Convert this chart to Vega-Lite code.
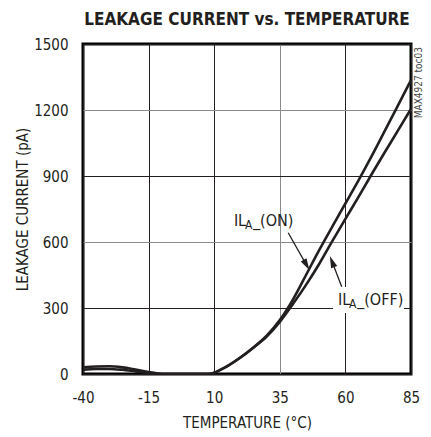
{
  "$schema": "https://vega.github.io/schema/vega-lite/v6.json",
  "width": 328,
  "height": 330,
  "autosize": {"type": "none"},
  "padding": {"left": 83, "top": 44, "right": 20, "bottom": 63},
  "background": "white",
  "config": {
    "font": "DejaVu Sans Condensed, sans-serif",
    "view": {"stroke": "black", "strokeWidth": 3},
    "axis": {
      "domain": false,
      "ticks": false,
      "tickSize": 0,
      "labelFlush": false,
      "labelFontSize": 15,
      "labelColor": "#231f20",
      "titleFontSize": 15,
      "titleFontWeight": "normal",
      "titleColor": "#231f20",
      "gridWidth": 1
    }
  },
  "title": {
    "text": "LEAKAGE CURRENT vs. TEMPERATURE",
    "fontSize": 17,
    "fontWeight": "bold",
    "anchor": "middle",
    "frame": "group",
    "offset": 8,
    "color": "#231f20"
  },
  "datasets": {
    "curves": [
      {"series": "ON", "T": -40, "I": 30}, {"series": "ON", "T": -35, "I": 34}, {"series": "ON", "T": -30, "I": 35},
      {"series": "ON", "T": -25, "I": 30}, {"series": "ON", "T": -20, "I": 20}, {"series": "ON", "T": -15, "I": 9},
      {"series": "ON", "T": -12, "I": 3}, {"series": "ON", "T": -10, "I": 0}, {"series": "ON", "T": 0, "I": 0},
      {"series": "ON", "T": 8, "I": 0}, {"series": "ON", "T": 10, "I": 6}, {"series": "ON", "T": 12.5, "I": 20},
      {"series": "ON", "T": 15, "I": 36}, {"series": "ON", "T": 20, "I": 75}, {"series": "ON", "T": 25, "I": 121},
      {"series": "ON", "T": 30, "I": 174}, {"series": "ON", "T": 35, "I": 245}, {"series": "ON", "T": 40, "I": 338},
      {"series": "ON", "T": 45, "I": 450}, {"series": "ON", "T": 50, "I": 563}, {"series": "ON", "T": 55, "I": 670},
      {"series": "ON", "T": 60, "I": 775}, {"series": "ON", "T": 65, "I": 880}, {"series": "ON", "T": 70, "I": 990},
      {"series": "ON", "T": 75, "I": 1105}, {"series": "ON", "T": 80, "I": 1220}, {"series": "ON", "T": 85, "I": 1336},
      {"series": "OFF", "T": -40, "I": 20}, {"series": "OFF", "T": -35, "I": 23}, {"series": "OFF", "T": -30, "I": 23},
      {"series": "OFF", "T": -25, "I": 19}, {"series": "OFF", "T": -20, "I": 12}, {"series": "OFF", "T": -15, "I": 5},
      {"series": "OFF", "T": -12, "I": 1}, {"series": "OFF", "T": -10, "I": 0}, {"series": "OFF", "T": 0, "I": 0},
      {"series": "OFF", "T": 8, "I": 0}, {"series": "OFF", "T": 10, "I": 6}, {"series": "OFF", "T": 12.5, "I": 20},
      {"series": "OFF", "T": 15, "I": 36}, {"series": "OFF", "T": 20, "I": 75}, {"series": "OFF", "T": 25, "I": 120},
      {"series": "OFF", "T": 30, "I": 170}, {"series": "OFF", "T": 35, "I": 237}, {"series": "OFF", "T": 40, "I": 318},
      {"series": "OFF", "T": 45, "I": 405}, {"series": "OFF", "T": 50, "I": 500}, {"series": "OFF", "T": 55, "I": 604},
      {"series": "OFF", "T": 60, "I": 705}, {"series": "OFF", "T": 65, "I": 805}, {"series": "OFF", "T": 70, "I": 908},
      {"series": "OFF", "T": 75, "I": 1008}, {"series": "OFF", "T": 80, "I": 1106}, {"series": "OFF", "T": 85, "I": 1205}
    ],
    "box": [{"t1": 55.3, "t2": 82.3, "v1": 277, "v2": 395}],
    "arrows": [
      {"name": "ON", "t1": 38.2, "v1": 642, "t2": 45.2, "v2": 495},
      {"name": "OFF", "t1": 58.6, "v1": 397, "t2": 54.9, "v2": 511}
    ],
    "labels": [
      {"name": "ON", "t": 17.5, "v": 673, "suffix": "_(ON)"},
      {"name": "OFF", "t": 57.2, "v": 314, "suffix": "_(OFF)"}
    ],
    "note": [{"t": 85, "v": 1500, "text": "MAX4927 toc03"}]
  },
  "layer": [
    {
      "data": {"name": "curves"},
      "mark": {"type": "line", "interpolate": "monotone", "strokeWidth": 2.6, "color": "#231f20", "clip": true},
      "encoding": {
        "x": {
          "field": "T", "type": "quantitative", "title": "TEMPERATURE (°C)",
          "scale": {"domain": [-40, 85], "nice": false, "zero": false},
          "axis": {
            "values": [-40, -15, 10, 35, 60, 85],
            "labelExpr": "'' + datum.value",
            "labelPadding": 16,
            "titlePadding": 10,
            "grid": true,
            "gridColor": {"condition": {"test": "datum.value === 35", "value": "#8a8a8a"}, "value": "#231f20"}
          }
        },
        "y": {
          "field": "I", "type": "quantitative", "title": "LEAKAGE CURRENT (pA)",
          "scale": {"domain": [0, 1500], "nice": false},
          "axis": {
            "values": [0, 300, 600, 900, 1200, 1500],
            "labelExpr": "'' + datum.value",
            "labelPadding": 15,
            "titlePadding": 3,
            "grid": true,
            "gridColor": {"condition": {"test": "datum.value === 600 || datum.value === 1200", "value": "#8a8a8a"}, "value": "#231f20"}
          }
        },
        "detail": {"field": "series"}
      }
    },
    {
      "data": {"name": "box"},
      "mark": {"type": "rect", "fill": "white"},
      "encoding": {
        "x": {"field": "t1", "type": "quantitative", "title": "TEMPERATURE (°C)"},
        "x2": {"field": "t2"},
        "y": {"field": "v1", "type": "quantitative", "title": "LEAKAGE CURRENT (pA)"},
        "y2": {"field": "v2"}
      }
    },
    {
      "data": {"name": "arrows"},
      "mark": {"type": "rule", "strokeWidth": 1.3, "color": "#231f20"},
      "encoding": {
        "x": {"field": "t1", "type": "quantitative", "title": "TEMPERATURE (°C)"},
        "x2": {"field": "t2"},
        "y": {"field": "v1", "type": "quantitative", "title": "LEAKAGE CURRENT (pA)"},
        "y2": {"field": "v2"}
      }
    },
    {
      "data": {"name": "arrows"},
      "transform": [{"filter": "datum.name === 'ON'"}],
      "mark": {"type": "point", "shape": "M0,-1L0.55,1L-0.55,1Z", "filled": true, "size": 144, "angle": 150.5, "color": "#231f20", "opacity": 1},
      "encoding": {
        "x": {"field": "t2", "type": "quantitative", "title": "TEMPERATURE (°C)"},
        "y": {"field": "v2", "type": "quantitative", "title": "LEAKAGE CURRENT (pA)"}
      }
    },
    {
      "data": {"name": "arrows"},
      "transform": [{"filter": "datum.name === 'OFF'"}],
      "mark": {"type": "point", "shape": "M0,-1L0.55,1L-0.55,1Z", "filled": true, "size": 144, "angle": 339, "color": "#231f20", "opacity": 1},
      "encoding": {
        "x": {"field": "t2", "type": "quantitative", "title": "TEMPERATURE (°C)"},
        "y": {"field": "v2", "type": "quantitative", "title": "LEAKAGE CURRENT (pA)"}
      }
    },
    {
      "data": {"name": "labels"},
      "mark": {"type": "text", "text": "IL", "align": "left", "baseline": "alphabetic", "fontSize": 16, "color": "#231f20"},
      "encoding": {
        "x": {"field": "t", "type": "quantitative", "title": "TEMPERATURE (°C)"},
        "y": {"field": "v", "type": "quantitative", "title": "LEAKAGE CURRENT (pA)"}
      }
    },
    {
      "data": {"name": "labels"},
      "mark": {"type": "text", "text": "A", "align": "left", "baseline": "alphabetic", "fontSize": 12, "dx": 11, "dy": 3, "color": "#231f20"},
      "encoding": {
        "x": {"field": "t", "type": "quantitative", "title": "TEMPERATURE (°C)"},
        "y": {"field": "v", "type": "quantitative", "title": "LEAKAGE CURRENT (pA)"}
      }
    },
    {
      "data": {"name": "labels"},
      "mark": {"type": "text", "align": "left", "baseline": "alphabetic", "fontSize": 16, "dx": 19, "color": "#231f20"},
      "encoding": {
        "x": {"field": "t", "type": "quantitative", "title": "TEMPERATURE (°C)"},
        "y": {"field": "v", "type": "quantitative", "title": "LEAKAGE CURRENT (pA)"},
        "text": {"field": "suffix"}
      }
    },
    {
      "data": {"name": "note"},
      "mark": {"type": "text", "angle": 270, "align": "right", "baseline": "top", "fontSize": 10, "dx": -3, "dy": 3, "color": "#444444"},
      "encoding": {
        "x": {"field": "t", "type": "quantitative", "title": "TEMPERATURE (°C)"},
        "y": {"field": "v", "type": "quantitative", "title": "LEAKAGE CURRENT (pA)"},
        "text": {"field": "text"}
      }
    }
  ]
}
